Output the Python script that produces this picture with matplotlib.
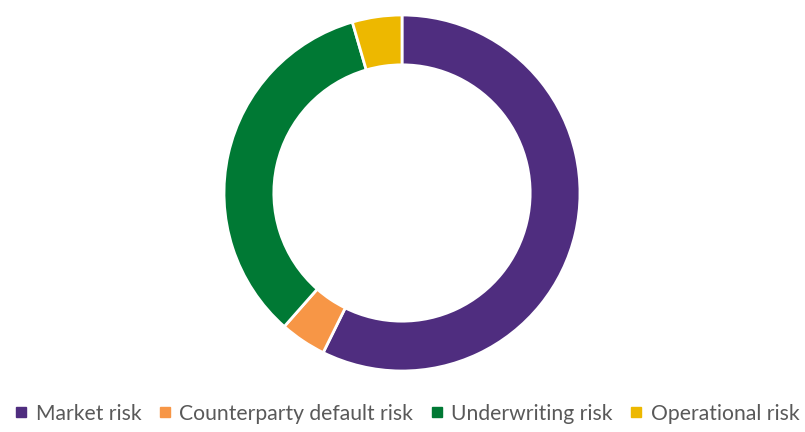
import matplotlib
matplotlib.use("Agg")
import matplotlib.pyplot as plt
from matplotlib.lines import Line2D

labels = ["Market risk", "Counterparty default risk", "Underwriting risk", "Operational risk"]
shares = [57.3, 4.2, 34.0, 4.5]
colors = ["#4F2D7F", "#F79646", "#007934", "#EDB800"]

W, H = 805, 432
fig = plt.figure(figsize=(W / 100, H / 100), dpi=100)

cx, cy, r = 402, 193, 178
ax = fig.add_axes([(cx - r) / W, (H - cy - r) / H, 2 * r / W, 2 * r / H])
ax.pie(shares, colors=colors, startangle=90, counterclock=False, radius=1,
       wedgeprops=dict(width=0.28, edgecolor="white", linewidth=2))
ax.set_xlim(-1, 1)
ax.set_ylim(-1, 1)
ax.set_aspect("equal")
ax.axis("off")

handles = [Line2D([], [], marker="s", linestyle="None", markersize=7,
                  markerfacecolor=c, markeredgecolor=c) for c in colors]
fig.legend(handles, labels, loc="lower center", ncol=4, frameon=False,
           bbox_to_anchor=(0.505, -0.025), handletextpad=0.35,
           columnspacing=0.75, handlelength=0.7,
           prop=dict(family="Lato", size=15.2), labelcolor="#595959")

fig.savefig("out.png", dpi=100)
